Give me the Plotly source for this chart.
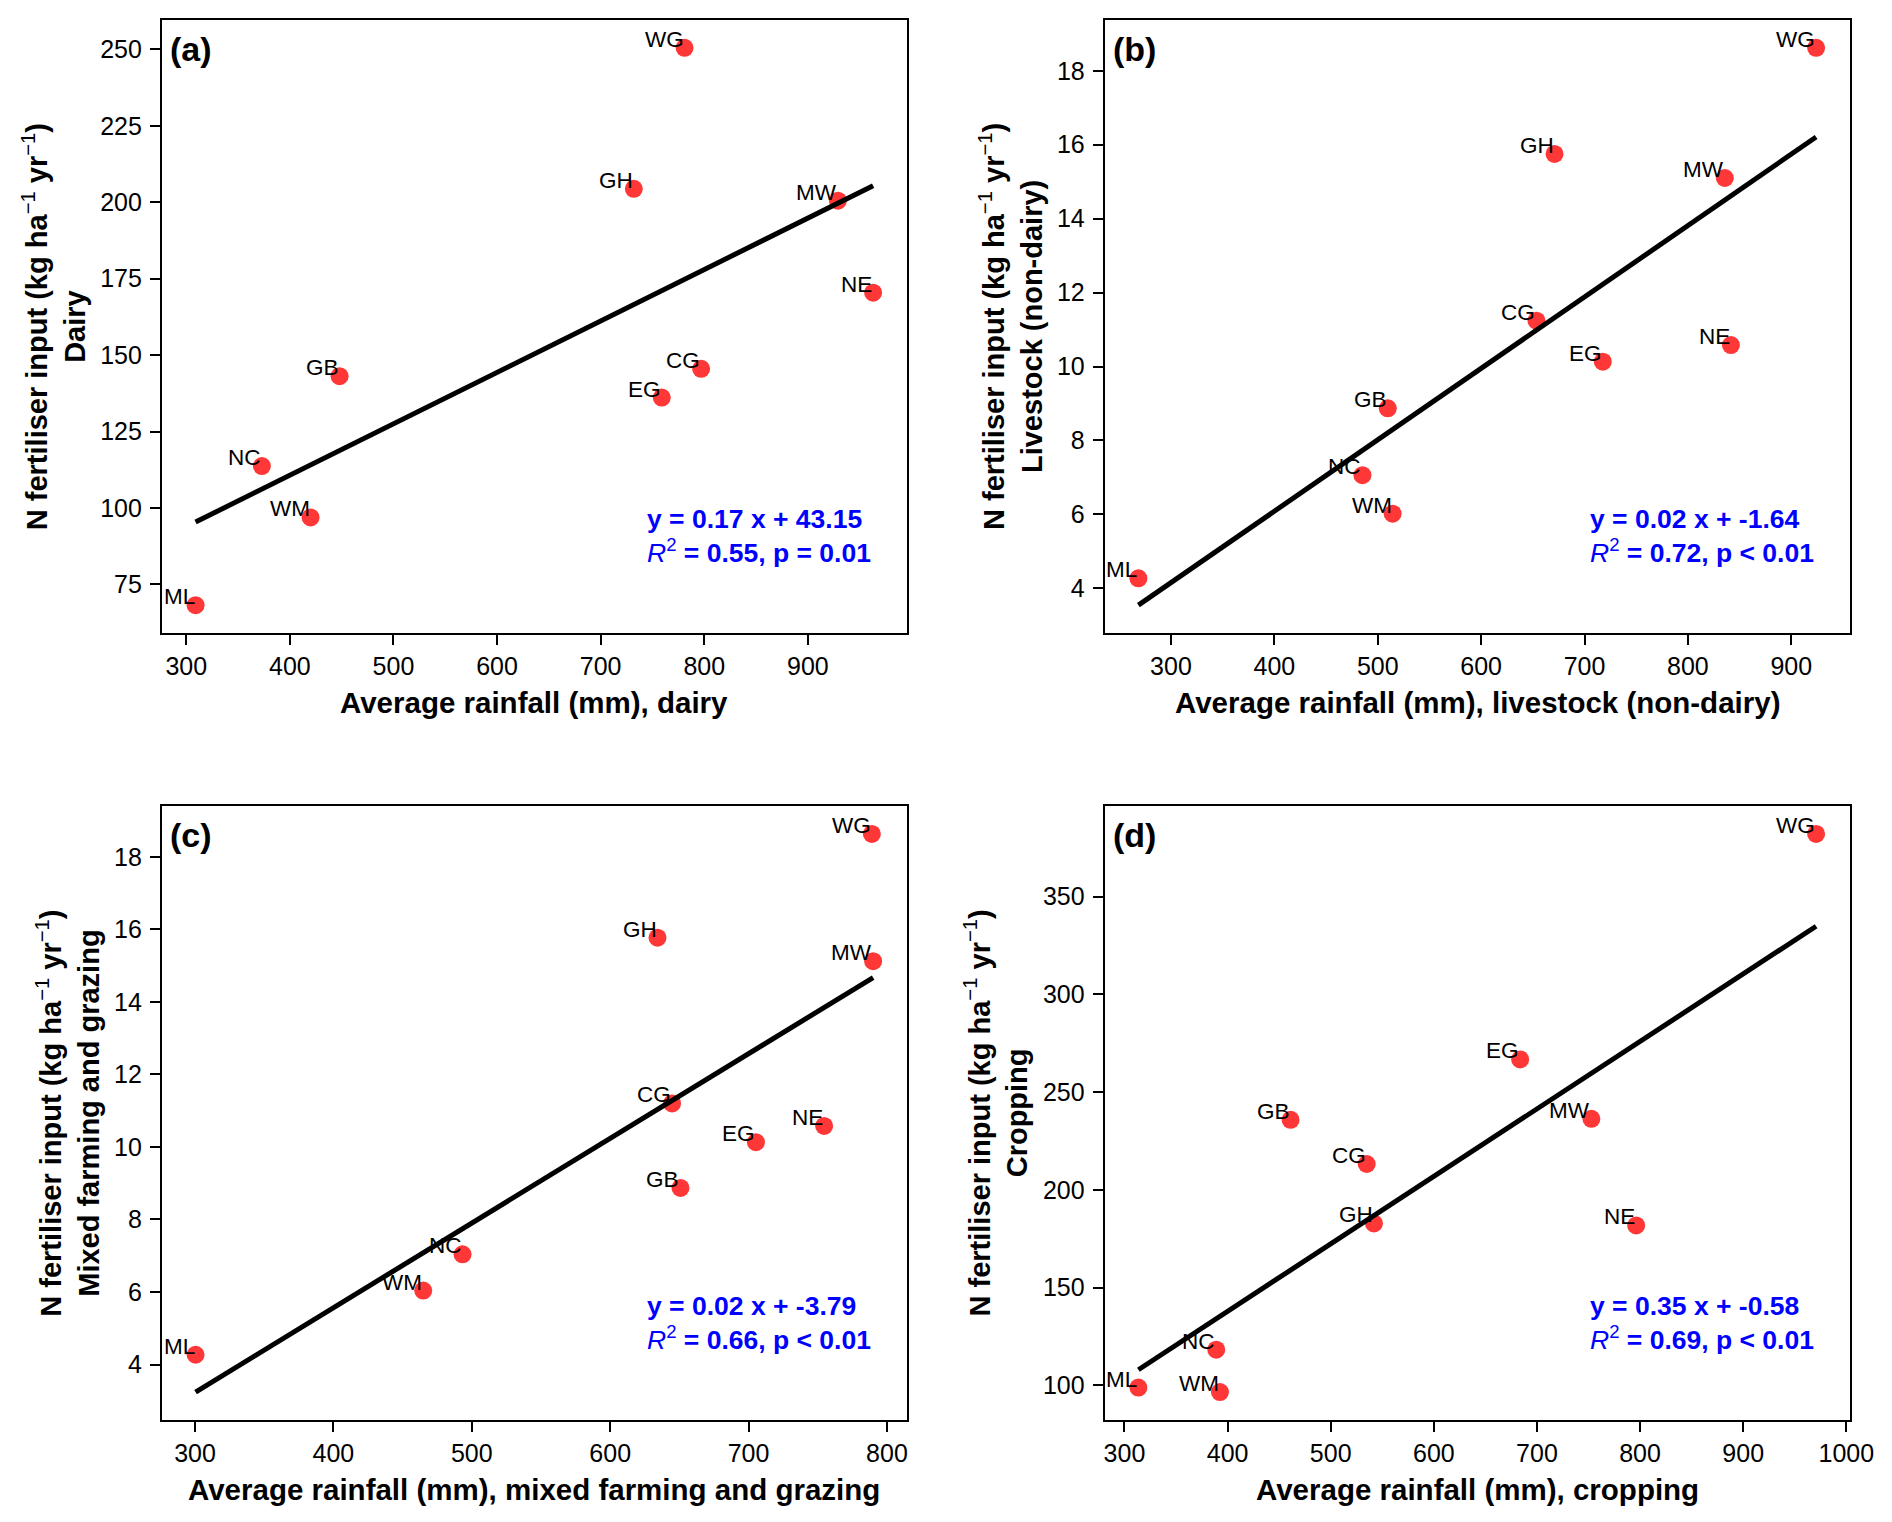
import numpy as np
import plotly.graph_objects as go

W, H = 1892, 1522

regions = ["WG", "GH", "MW", "NE", "CG", "EG", "GB", "NC", "WM", "ML"]

dairy_x = [781, 732, 929, 963, 797, 759, 448, 373, 420, 309]
dairy_y = [250.5, 204.4, 200.5, 170.4, 145.5, 136.1, 143.1, 113.7, 96.9, 68.2]

livestock_x = [924, 671, 835.7, 841.6, 653.5, 717.7, 509.7, 485.2, 514.4, 268.5]
livestock_y = [18.62, 15.75, 15.10, 10.58, 11.24, 10.13, 8.87, 7.06, 6.02, 4.27]

mixed_x = [789.1, 634.2, 790.0, 754.6, 644.7, 705.3, 650.8, 493.3, 464.9, 300.4]
mixed_y = [18.63, 15.77, 15.12, 10.58, 11.20, 10.13, 8.87, 7.04, 6.04, 4.27]

crop_x = [970.7, 541.9, 752.8, 796.2, 534.9, 683.7, 461.1, 389.0, 392.6, 313.5]
crop_y = [382.1, 182.8, 236.3, 181.8, 213.2, 266.7, 235.8, 118.2, 96.5, 98.8]

panel_tags = ["(a)", "(b)", "(c)", "(d)"]
x_titles = ["Average rainfall (mm), dairy",
            "Average rainfall (mm), livestock (non-dairy)",
            "Average rainfall (mm), mixed farming and grazing",
            "Average rainfall (mm), cropping"]
y_second = ["Dairy", "Livestock (non-dairy)", "Mixed farming and grazing", "Cropping"]
eq_lines = ["y = 0.17 x + 43.15", "y = 0.02 x + -1.64", "y = 0.02 x + -3.79", "y = 0.35 x + -0.58"]
stat_lines = ["= 0.55, p = 0.01", "= 0.72, p < 0.01", "= 0.66, p < 0.01", "= 0.69, p < 0.01"]
y_dticks = [25, 2, 2, 50]
x_dtick = 100

datasets = [(dairy_x, dairy_y), (livestock_x, livestock_y), (mixed_x, mixed_y), (crop_x, crop_y)]

FONT = "Liberation Sans, Arial, sans-serif"
# panel boxes in pixels (left, right), (top, bottom)
cols_px = [(161.7, 907.0), (1104.5, 1850.0)]
rows_px = [(20.0, 633.0), (806.0, 1420.0)]
ytitle_offset = [108, 94, 94, 108]

fig = go.Figure()
annotations = []

for i, (xs, ys) in enumerate(datasets):
    r, c = divmod(i, 2)
    xa = "x" if i == 0 else f"x{i+1}"
    ya = "y" if i == 0 else f"y{i+1}"
    xs_a = np.array(xs, dtype=float)
    ys_a = np.array(ys, dtype=float)
    slope, icpt = np.polyfit(xs_a, ys_a, 1)
    lx = np.array([xs_a.min(), xs_a.max()])
    ly = slope * lx + icpt

    fig.add_trace(go.Scatter(x=xs, y=ys, mode="markers", xaxis=xa, yaxis=ya,
                             marker=dict(color="rgba(255,20,20,0.85)", size=18, line=dict(width=0)),
                             showlegend=False, hoverinfo="skip"))
    fig.add_trace(go.Scatter(x=lx, y=ly, mode="lines", xaxis=xa, yaxis=ya,
                             line=dict(color="black", width=5), showlegend=False, hoverinfo="skip"))

    # ranges like matplotlib autoscale (5% margins)
    xmin, xmax = xs_a.min(), xs_a.max()
    ymin, ymax = min(ys_a.min(), ly.min()), max(ys_a.max(), ly.max())
    xr = [xmin - 0.05 * (xmax - xmin), xmax + 0.05 * (xmax - xmin)]
    yr = [ymin - 0.05 * (ymax - ymin), ymax + 0.05 * (ymax - ymin)]

    (l, rt) = cols_px[c]
    (tp, bt) = rows_px[r]
    axis_common = dict(showgrid=False, zeroline=False, showline=True, linecolor="black", linewidth=1.6,
                       mirror=True, ticks="outside", ticklen=10, tickwidth=1.6, tickcolor="black",
                       tickfont=dict(family=FONT, size=25, color="black"), automargin=False)
    fig.layout[("xaxis" if i == 0 else f"xaxis{i+1}")] = dict(
        domain=[l / W, rt / W], range=xr, anchor=ya, dtick=x_dtick, tick0=0, **axis_common)
    fig.layout[("yaxis" if i == 0 else f"yaxis{i+1}")] = dict(
        domain=[1 - bt / H, 1 - tp / H], range=yr, anchor=xa, dtick=y_dticks[i], tick0=0,
        ticklabelstandoff=3, **axis_common)

    # point labels
    for name, px_, py_ in zip(regions, xs, ys):
        annotations.append(dict(x=px_, y=py_, xref=xa, yref=ya, text=name, showarrow=False,
                                xanchor="right", yanchor="bottom", xshift=1, yshift=-6,
                                font=dict(family=FONT, size=22.5, color="black")))
    # panel tag
    annotations.append(dict(x=0.0085, y=0.987, xref=f"{xa} domain", yref=f"{ya} domain",
                            text=f"<b>{panel_tags[i]}</b>", showarrow=False, xanchor="left", yanchor="top",
                            font=dict(family=FONT, size=34, color="black")))
    # equation
    annotations.append(dict(x=0.648, y=0.1034, xref=f"{xa} domain", yref=f"{ya} domain",
                            text=f"<b>{eq_lines[i]}</b><br><i>R</i><sup>2</sup><b> {stat_lines[i]}</b>",
                            showarrow=False, xanchor="left", yanchor="bottom", align="left",
                            font=dict(family=FONT, size=26.5, color="#0000ff")))
    # x title
    annotations.append(dict(x=(l + rt) / 2 / W, y=1 - (bt + 69) / H, xref="paper", yref="paper",
                            text=f"<b>{x_titles[i]}</b>", showarrow=False, xanchor="center", yanchor="middle",
                            font=dict(family=FONT, size=29.5, color="black")))
    # y title
    annotations.append(dict(x=(l - ytitle_offset[i]) / W, y=1 - (tp + bt) / 2 / H, xref="paper", yref="paper",
                            text=("<b>N fertiliser input (kg ha</b><sup>\u22121</sup><b> yr</b><sup>\u22121</sup><b>)</b>"
                                  f"<br><b>{y_second[i]}</b>"),
                            showarrow=False, xanchor="center", yanchor="middle", textangle=-90,
                            font=dict(family=FONT, size=29, color="black")))

fig.update_layout(width=W, height=H, margin=dict(l=0, r=0, t=0, b=0),
                  paper_bgcolor="white", plot_bgcolor="white", annotations=annotations,
                  font=dict(family=FONT, color="black"))

fig.write_html("out.html", config={"displayModeBar": False},
               post_script="document.body.style.margin='0px';document.body.style.overflow='hidden';")
